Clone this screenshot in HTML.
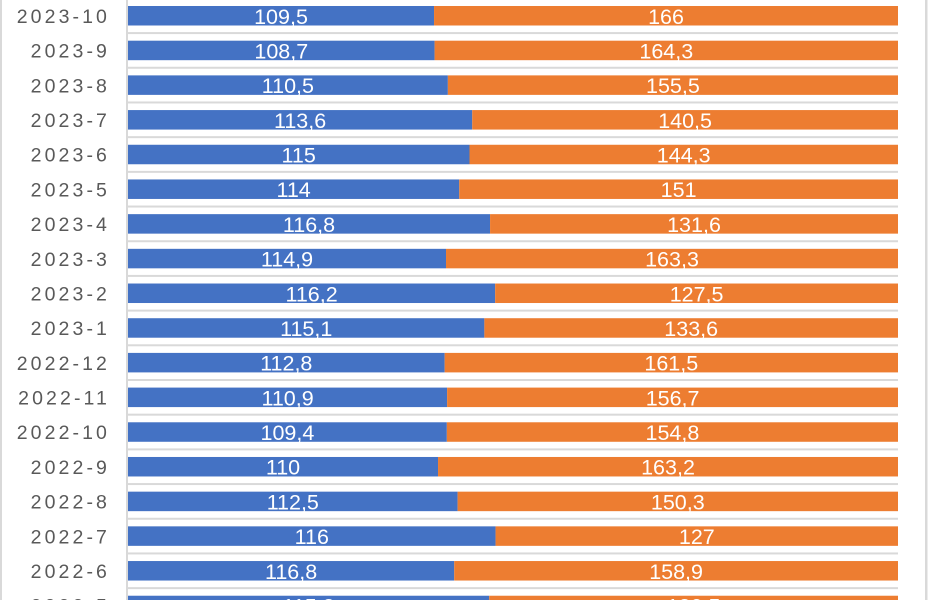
<!DOCTYPE html>
<html><head><meta charset="utf-8"><style>
html,body{margin:0;padding:0;background:#fff;width:928px;height:600px;overflow:hidden}
svg{display:block}
.c{font-family:"Liberation Sans",sans-serif;font-size:19.5px;fill:#595959;letter-spacing:3.1px}
.v{font-family:"Liberation Sans",sans-serif;font-size:21.5px;fill:#fff}
</style></head><body>
<svg width="928" height="600" viewBox="0 0 928 600" xmlns="http://www.w3.org/2000/svg">
<rect x="0" y="0" width="928" height="600" fill="#fff"/>
<rect x="0" y="0" width="2" height="600" fill="#d9d9d9"/>
<rect x="925" y="0" width="2.5" height="600" fill="#d9d9d9"/>
<g id="grid" fill="#d9d9d9"></g>
<rect x="126" y="0" width="2" height="600" fill="#d9d9d9"/>
<g id="bars"></g>
<script>
var d=[["2023-10",109.5,166],["2023-9",108.7,164.3],["2023-8",110.5,155.5],["2023-7",113.6,140.5],["2023-6",115,144.3],["2023-5",114,151],["2023-4",116.8,131.6],["2023-3",114.9,163.3],["2023-2",116.2,127.5],["2023-1",115.1,133.6],["2022-12",112.8,161.5],["2022-11",110.9,156.7],["2022-10",109.4,154.8],["2022-9",110,163.2],["2022-8",112.5,150.3],["2022-7",116,127],["2022-6",116.8,158.9],["2022-5",115.3,130.5]];
var ns="http://www.w3.org/2000/svg",g=document.getElementById("bars"),gr=document.getElementById("grid");
function el(t,a,p,txt){var e=document.createElementNS(ns,t);for(var k in a)e.setAttribute(k,a[k]);if(txt!=null)e.textContent=txt;p.appendChild(e);return e;}
var x0=128,W=770,P=34.69,c0=15.75,h=19.5;
for(var i=-1;i<18;i++){el("rect",{x:128,y:(c0+P/2+i*P-1).toFixed(2),width:770,height:2},gr);}
d.forEach(function(r,i){
 var c=c0+i*P,t=c-h/2,f=r[1]/(r[1]+r[2]),xb=x0+W*f;
 el("rect",{x:x0,y:t,width:(xb-x0).toFixed(2),height:h,fill:"#4472c4"},g);
 el("rect",{x:xb.toFixed(2),y:t,width:(x0+W-xb).toFixed(2),height:h,fill:"#ed7d31"},g);
 var s1=String(r[1]).replace(".",","),s2=String(r[2]).replace(".",",");
 el("text",{x:((x0+xb)/2).toFixed(1),y:(c+8).toFixed(1),"text-anchor":"middle","class":"v"},g,s1);
 el("text",{x:((xb+x0+W)/2).toFixed(1),y:(c+8).toFixed(1),"text-anchor":"middle","class":"v"},g,s2);
 el("text",{x:110,y:(c+7.2).toFixed(1),"text-anchor":"end","class":"c"},g,r[0]);
});
</script>
</svg>
</body></html>
